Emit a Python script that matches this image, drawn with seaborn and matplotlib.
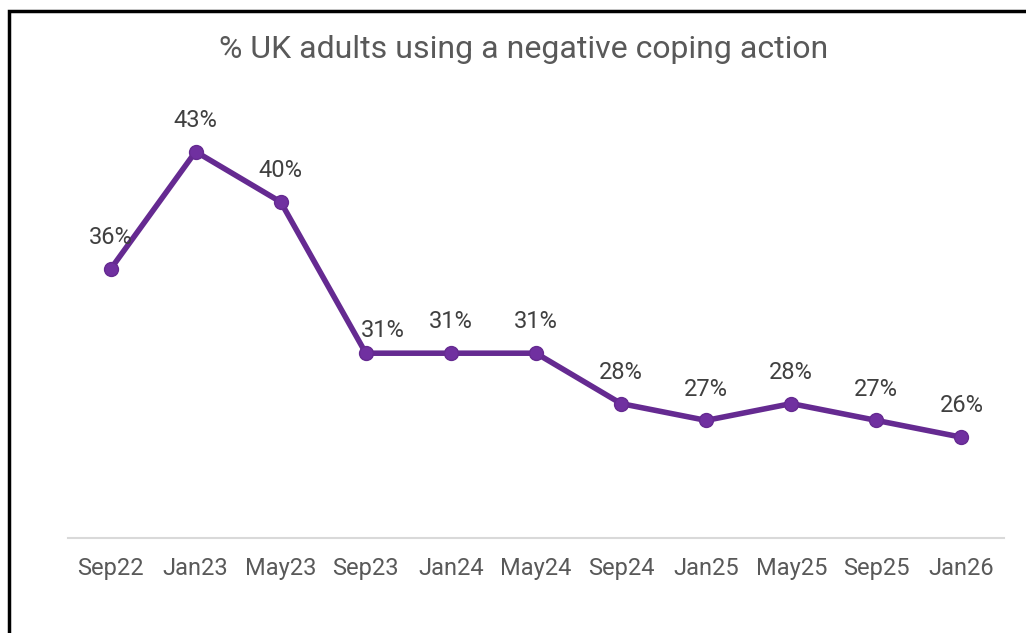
import matplotlib
matplotlib.use("Agg")
import matplotlib.pyplot as plt
import seaborn as sns
import pandas as pd
from matplotlib.patches import Rectangle

waves = ["Sep22", "Jan23", "May23", "Sep23", "Jan24", "May24",
         "Sep24", "Jan25", "May25", "Sep25", "Jan26"]
pct_negative = [36, 43, 40, 31, 31, 31, 28, 27, 28, 27, 26]
title = "% UK adults using a negative coping action"

df = pd.DataFrame({"wave": waves, "pct": pct_negative})

sns.set_theme(style="white")
plt.rcParams["font.family"] = ["Roboto", "DejaVu Sans"]

W, H = 1026, 633
fig = plt.figure(figsize=(W / 100, H / 100), dpi=100)
ax = fig.add_axes([68 / W, (H - 538) / H, 936 / W, (538 - 118) / H])

line_col = "#652a91"
sns.lineplot(data=df, x="wave", y="pct", ax=ax, sort=False,
             color=line_col, linewidth=4, marker="o", markersize=10,
             markerfacecolor="#7030a0", markeredgecolor=line_col,
             markeredgewidth=1)

ax.set_xlim(-0.5, len(waves) - 0.5)
ax.set_ylim(20, 45)

# value labels above each point (the Sep23 one nudged right, clear of the line)
nudge = {3: (12, 16)}
for i, v in enumerate(pct_negative):
    dx, dy = nudge.get(i, (0, 22.5))
    ax.annotate(f"{v}%", (i, v), xytext=(dx, dy), textcoords="offset points",
                ha="center", va="center", fontsize=17, color="#404040")

ax.set_xlabel("")
ax.set_ylabel("")
ax.set_yticks([])
for s in ["top", "right", "left"]:
    ax.spines[s].set_visible(False)
ax.spines["bottom"].set_color("#d9d9d9")
ax.spines["bottom"].set_linewidth(1.5)
ax.tick_params(axis="x", length=0, pad=14, labelsize=17, labelcolor="#595959")

fig.text(524 / W, 1 - 50 / H, title, ha="center", va="center",
         fontsize=23, color="#595959")

# outer frame (left and top edges visible)
fig.patches.append(Rectangle((9 / W, -0.1), 1.2, 1.1 - 11 / H,
                             transform=fig.transFigure, fill=False,
                             edgecolor="black", linewidth=2.5))

fig.savefig("out.png", dpi=100)
